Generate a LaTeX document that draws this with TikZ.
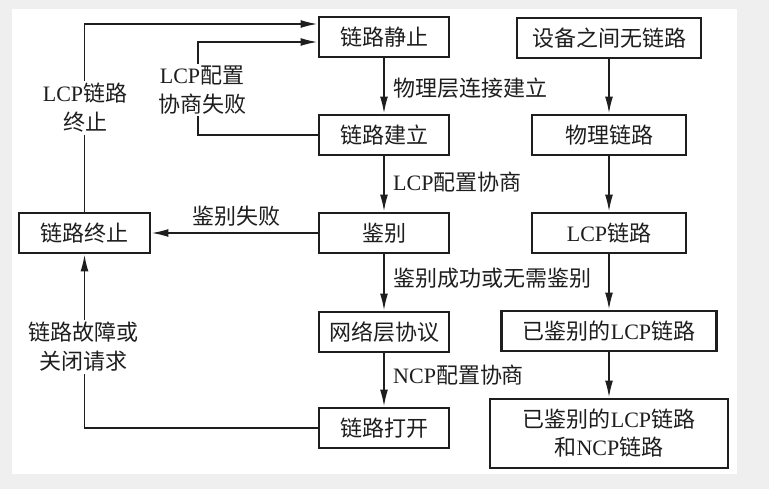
\documentclass[tikz,border=0pt]{standalone}
\usepackage{fontspec}
\setmainfont{Noto Sans CJK SC}
\newfontfamily\latf{Liberation Serif}
\newcommand\lat[1]{{\latf #1}}
\usetikzlibrary{arrows.meta}
\definecolor{bggray}{HTML}{EFEFEF}
\definecolor{ink}{HTML}{1E1E1E}
\tikzset{
  box/.style={draw=ink, text=ink, line width=2.9pt, inner sep=0pt, minimum height=40pt, align=center,
     font=\fontsize{22}{28}\selectfont},
  arr/.style={draw=ink, line width=1.7pt, -{Latex[length=17pt,width=8pt]}},
  lbl/.style={text=ink, inner sep=2pt, align=center, font=\fontsize{22}{29}\selectfont},
  gaplbl/.style={lbl, fill=white}
}
\begin{document}
\begin{tikzpicture}[x=1pt,y=-1pt]
\useasboundingbox (0,0) rectangle (769,489);
\fill[bggray] (0,0) rectangle (769,489);
\fill[white] (12,9) rectangle (737,474);
% centre column
\node[box, minimum width=130pt] (jz) at (384,37) {链路静止};
\node[box, minimum width=130pt] (jl) at (384,135) {链路建立};
\node[box, minimum width=130pt] (jb) at (384,233) {鉴别};
\node[box, minimum width=130pt] (wl) at (384,332) {网络层协议};
\node[box, minimum width=130pt] (dk) at (384,428) {链路打开};
% left
\node[box, minimum width=131pt] (zz) at (84.5,233) {链路终止};
% right column
\node[box, minimum width=184pt] (sb) at (609,38) {设备之间无链路};
\node[box, minimum width=154pt] (wll) at (609,135) {物理链路};
\node[box, minimum width=154pt] (lcp) at (609,233) {\lat{LCP}链路};
\node[box, minimum width=215pt] (yjb) at (609,331) {已鉴别的\lat{LCP}链路};
\node[box, minimum width=238pt, minimum height=69pt] (fin) at (609,433.5) {已鉴别的\lat{LCP}链路\\和\lat{NCP}链路};
% centre arrows
\draw[arr] (jz) -- (jl);
\draw[arr] (jl) -- (jb);
\draw[arr] (jb) -- (wl);
\draw[arr] (wl) -- (dk);
\node[lbl, anchor=west] (l1) at (391,88) {物理层连接建立};
\node[lbl, anchor=west] (l2) at (391,182) {\lat{LCP}配置协商};
\node[lbl, anchor=west] (l3) at (391,278) {鉴别成功或无需鉴别};
\node[lbl, anchor=west] (l4) at (391,375) {\lat{NCP}配置协商};
% right arrows
\draw[arr] (sb) -- (wll);
\draw[arr] (wll) -- (lcp);
\draw[arr] (lcp) -- (yjb);
\draw[arr] (yjb) -- (fin);
% loops
\coordinate (c1) at (198,135);
\draw[arr] (zz.north) |- ([yshift=13pt]jz.west);
\draw[arr] (jl.west) -- (c1) |- ([yshift=-5pt]jz.west);
\draw[arr] (jb.west) -- (zz.east);
\coordinate (c2) at (84.5,428);
\draw[arr] (dk.west) -- (c2) -- (zz.south);
\node[gaplbl] (g1) at (85,108) {\lat{LCP}链路\\终止};
\node[gaplbl] (g2) at (202,90) {\lat{LCP}配置\\协商失败};
\node[gaplbl] (g3) at (83,347) {链路故障或\\关闭请求};
\node[lbl] (g4) at (236,216) {鉴别失败};
\end{tikzpicture}
\end{document}
